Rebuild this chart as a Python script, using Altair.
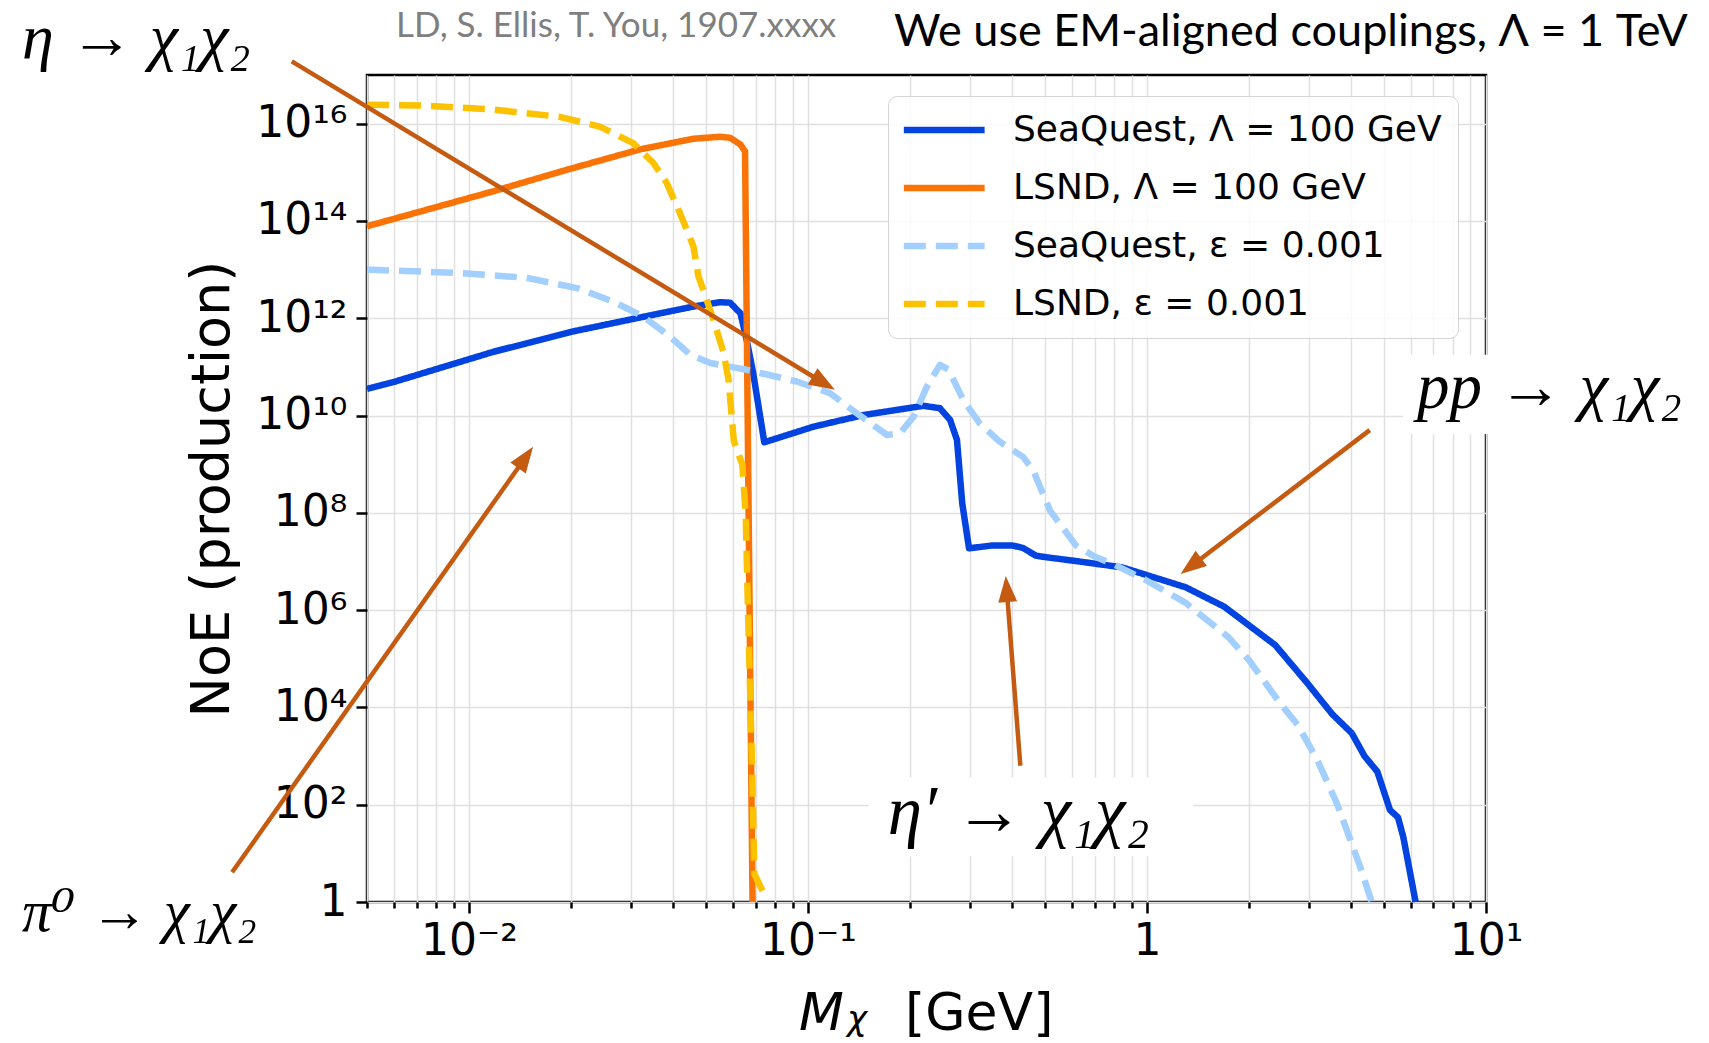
import json
import math

import altair as alt
import pandas as pd

# ---------------- curves: mass [GeV] and log10(number of events) ----------------
seaquest_lam_mass = [0.005, 0.006, 0.0118, 0.0203, 0.0327, 0.0459, 0.055, 0.0589, 0.0632, 0.0659,
                     0.0689, 0.0743, 0.1037, 0.1457, 0.2189, 0.245, 0.2625, 0.275, 0.285, 0.2985,
                     0.35, 0.40, 0.43, 0.47, 0.50, 0.60, 0.843, 1.30, 1.69, 2.39,
                     2.97, 3.52, 4.02, 4.38, 4.78, 5.21, 5.5, 5.7, 6.2]
seaquest_lam_log = [10.55, 10.69, 11.31, 11.73, 12.03, 12.24, 12.33, 12.32, 12.10, 11.56,
                    10.87, 9.45, 9.77, 10.01, 10.20, 10.15, 9.91, 9.50, 8.20, 7.27,
                    7.33, 7.33, 7.28, 7.12, 7.09, 7.02, 6.88, 6.47, 6.07, 5.28,
                    4.50, 3.86, 3.47, 3.00, 2.68, 1.89, 1.74, 1.34, 0.0]

lsnd_lam_mass = [0.005, 0.0118, 0.0194, 0.0319, 0.0459, 0.055, 0.0589, 0.0632, 0.0652, 0.0662, 0.0686]
lsnd_lam_log = [13.89, 14.61, 15.05, 15.47, 15.69, 15.73, 15.71, 15.57, 15.43, 10.73, 0.0]

seaquest_eps_mass = [0.005, 0.0094, 0.0148, 0.0208, 0.0267, 0.0327, 0.0392, 0.0449, 0.0515, 0.0659,
                     0.0927, 0.116, 0.139, 0.171, 0.187, 0.205, 0.224, 0.245, 0.26, 0.287,
                     0.321, 0.368, 0.431, 0.461, 0.518, 0.617, 0.70, 0.798, 0.99, 1.30,
                     1.74, 2.0, 2.46, 2.79, 3.18, 3.62, 3.95, 4.3, 4.6]
seaquest_eps_log = [13.0, 12.93, 12.83, 12.62, 12.34, 12.03, 11.62, 11.25, 11.08, 10.94,
                    10.70, 10.46, 10.05, 9.60, 9.64, 9.98, 10.59, 11.04, 10.94, 10.32,
                    9.84, 9.46, 9.15, 8.88, 8.04, 7.33, 7.10, 6.94, 6.62, 6.15,
                    5.44, 4.97, 4.10, 3.63, 2.92, 2.05, 1.34, 0.63, 0.0]

lsnd_eps_mass = [0.005, 0.0075, 0.0118, 0.0185, 0.0243, 0.0305, 0.035, 0.0383, 0.0419, 0.0459,
                 0.0475, 0.0491, 0.0526, 0.0563, 0.0583, 0.0604, 0.0640, 0.0655, 0.0662, 0.0670,
                 0.0678, 0.0686, 0.0694, 0.0734, 0.0742]
lsnd_eps_log = [16.39, 16.37, 16.29, 16.14, 15.94, 15.60, 15.19, 14.78, 14.16, 13.48,
                12.86, 12.58, 11.97, 11.30, 10.73, 9.48, 8.99, 7.95, 6.56, 5.17,
                3.78, 2.38, 0.58, 0.23, 0.12]

series_names = ["SeaQuest, Λ = 100 GeV", "LSND, Λ = 100 GeV",
                "SeaQuest, ε = 0.001", "LSND, ε = 0.001"]
series_colors = ["#0343df", "#f97306", "#a2cffe", "#fcc200"]
series_dash = [[1, 0], [1, 0], [22, 10], [22, 10]]

# ---------------- axis ticks ----------------
x_tick_values = [0.005, 0.006, 0.007, 0.008, 0.009,
                 0.01, 0.02, 0.03, 0.04, 0.05, 0.06, 0.07, 0.08, 0.09,
                 0.1, 0.2, 0.3, 0.4, 0.5, 0.6, 0.7, 0.8, 0.9,
                 1, 2, 3, 4, 5, 6, 7, 8, 9, 10]
x_major_values = [0.01, 0.1, 1, 10]
x_major_labels = ["10⁻²", "10⁻¹", "1", "10¹"]
y_tick_values = [1, 1e2, 1e4, 1e6, 1e8, 1e10, 1e12, 1e14, 1e16]
y_tick_labels = ["1", "10²", "10⁴", "10⁶", "10⁸", "10¹⁰", "10¹²", "10¹⁴", "10¹⁶"]

# ---------------- annotations (data coordinates) ----------------
arrow_tail_mass = [0.0030, 0.0020, 0.423, 4.54]
arrow_tail_log = [17.28, 0.61, 2.80, 9.70]
arrow_tip_mass = [0.120, 0.01545, 0.383, 1.256]
arrow_tip_log = [10.53, 9.36, 6.70, 6.74]

label_texts = ["η → χ₁χ₂", "π⁰ → χ₁χ₂", "η′ → χ₁χ₂", "pp → χ₁χ₂"]
label_mass = [0.00048, 0.00048, 0.172, 6.26]
label_log = [17.75, -0.22, 1.83, 10.57]
label_font_sizes = [64, 59, 69, 65]

box_mass_lo = [0.151, 5.69]
box_mass_hi = [1.367, 45.5]
box_log_lo = [0.94, 9.62]
box_log_hi = [2.56, 11.25]

header_left = "LD, S. Ellis, T. You, 1907.xxxx"
header_right = "We use EM-aligned couplings, Λ = 1 TeV"

# ---------------- layout ----------------
PLOT_W, PLOT_H = 1119, 827
X_LO, X_HI = 0.005, 10.0
Y_LO, Y_HI = 1.0, 1e17
BROWN = "#c55a11"
px_dec_x = PLOT_W / (math.log10(X_HI) - math.log10(X_LO))
px_dec_y = PLOT_H / (math.log10(Y_HI) - math.log10(Y_LO))

x_scale = alt.Scale(type="log", domain=[X_LO, X_HI], nice=False)
y_scale = alt.Scale(type="log", domain=[Y_LO, Y_HI], nice=False)

# ---------------- tables ----------------
rows = []
curve_mass = [seaquest_lam_mass, lsnd_lam_mass, seaquest_eps_mass, lsnd_eps_mass]
curve_log = [seaquest_lam_log, lsnd_lam_log, seaquest_eps_log, lsnd_eps_log]
for name, ms, ls in zip(series_names, curve_mass, curve_log):
    for i, (m, l) in enumerate(zip(ms, ls)):
        rows.append({"series": name, "idx": i, "mass": m, "noe": 10.0 ** l})
curves = pd.DataFrame(rows)

# arrow shafts stop inside the head so the tip stays sharp
shafts, heads = [], []
for tm, tl, hm, hl in zip(arrow_tail_mass, arrow_tail_log, arrow_tip_mass, arrow_tip_log):
    dx = (math.log10(hm) - math.log10(tm)) * px_dec_x
    dy = -(hl - tl) * px_dec_y
    n = math.hypot(dx, dy)
    ux, uy = dx / n, dy / n
    back = 16.0
    end_m = 10 ** (math.log10(hm) - back * ux / px_dec_x)
    end_l = hl + back * uy / px_dec_y
    shafts.append({"mass": tm, "noe": 10 ** tl, "mass2": end_m, "noe2": 10 ** end_l})
    heads.append({"mass": hm, "noe": 10 ** hl,
                  "angle": math.degrees(math.atan2(ux, -uy)) % 360})
shafts = pd.DataFrame(shafts)
heads = pd.DataFrame(heads)

labels = pd.DataFrame({"text": label_texts, "mass": label_mass,
                       "noe": [10 ** v for v in label_log], "size": label_font_sizes})
boxes = pd.DataFrame({"mass": box_mass_lo, "mass2": box_mass_hi,
                      "noe": [10 ** v for v in box_log_lo], "noe2": [10 ** v for v in box_log_hi]})

# ---------------- axes ----------------
x_major_test = "indexof({}, datum.value) >= 0".format(json.dumps(x_major_values))
x_label_expr = "{t} ? {labs}[indexof({vals}, datum.value)] : ''".format(
    t=x_major_test, labs=json.dumps(x_major_labels, ensure_ascii=False),
    vals=json.dumps(x_major_values))
y_label_expr = "{labs}[round(log(datum.value) / LN10 / 2)]".format(
    labs=json.dumps(y_tick_labels, ensure_ascii=False))

x_axis = alt.Axis(values=x_tick_values, labelExpr=x_label_expr, title=None,
                  tickSize={"condition": {"test": x_major_test, "value": 11}, "value": 6},
                  labelPadding=6, labelOverlap=False, labelFlush=False)
y_axis = alt.Axis(values=y_tick_values, labelExpr=y_label_expr, title="NoE (production)",
                  tickSize=11, labelPadding=9, labelOverlap=False, labelFlush=False,
                  titleFontSize=54, titlePadding=16)


def xy():
    """Shared log-scale position encodings with the same axis definition in every layer."""
    return dict(
        x=alt.X("mass:Q", scale=x_scale, axis=x_axis),
        y=alt.Y("noe:Q", scale=y_scale, axis=y_axis),
    )


legend = alt.Legend(title=None, orient="none", legendX=521, legendY=21,
                    symbolType="M-1.8,0H6.2", symbolSize=408, symbolStrokeWidth=6.5,
                    labelFont="DejaVu Sans", labelFontSize=36, labelColor="black",
                    labelOffset=73, labelLimit=0, padding=16, rowPadding=22,
                    fillColor="rgba(255,255,255,0.8)", strokeColor="#d5d5d5",
                    cornerRadius=9)

lines = alt.Chart(curves).mark_line(strokeWidth=6.5, strokeJoin="round").encode(
    **xy(),
    color=alt.Color("series:N", scale=alt.Scale(domain=series_names, range=series_colors),
                    sort=series_names, legend=legend),
    strokeDash=alt.StrokeDash("series:N", scale=alt.Scale(domain=series_names, range=series_dash),
                              sort=series_names, legend=legend),
    order="idx:Q",
)

arrow_shafts = alt.Chart(shafts).mark_rule(color=BROWN, strokeWidth=4.5).encode(
    **xy(), x2="mass2:Q", y2="noe2:Q",
)
arrow_heads = alt.Chart(heads).mark_point(
    shape="M0,0L-0.8,2.2L0.8,2.2Z", filled=True, size=560, color=BROWN, opacity=1, strokeWidth=0
).encode(
    **xy(),
    angle=alt.Angle("angle:Q", scale=None),
)

label_boxes = alt.Chart(boxes).mark_rect(color="white").encode(
    **xy(), x2="mass2:Q", y2="noe2:Q",
)
label_text = alt.Chart(labels).mark_text(
    align="left", baseline="middle", font="Liberation Serif, DejaVu Serif",
    fontStyle="italic", color="black"
).encode(
    **xy(),
    text="text:N",
    size=alt.Size("size:Q", scale=None),
)

one = pd.DataFrame({"k": [0]})
head_left = alt.Chart(one).mark_text(
    text=header_left, align="left", baseline="alphabetic", font="Lato", fontSize=35, color="#7f7f7f"
).encode(x=alt.value(29), y=alt.value(-38))
head_right = alt.Chart(one).mark_text(
    text=header_right, align="left", baseline="alphabetic", font="Lato", fontSize=45, color="black"
).encode(x=alt.value(527), y=alt.value(-29))

xt_m = alt.Chart(one).mark_text(
    text="M", align="left", baseline="alphabetic", font="DejaVu Sans", fontStyle="italic",
    fontSize=52, color="black"
).encode(x=alt.value(432), y=alt.value(955))
xt_chi = alt.Chart(one).mark_text(
    text="χ", align="left", baseline="alphabetic", font="DejaVu Sans", fontStyle="italic",
    fontSize=34, color="black"
).encode(x=alt.value(480), y=alt.value(955))
xt_unit = alt.Chart(one).mark_text(
    text="[GeV]", align="left", baseline="alphabetic", font="DejaVu Sans",
    fontSize=52, color="black"
).encode(x=alt.value(538), y=alt.value(955))

chart = alt.layer(
    lines, arrow_shafts, arrow_heads, label_boxes, label_text,
    head_left, head_right, xt_m, xt_chi, xt_unit,
).properties(
    width=PLOT_W, height=PLOT_H,
    autosize=alt.AutoSizeParams(type="none"),
    padding={"left": 367, "top": 75, "right": 223, "bottom": 141},
    background="white",
).configure_view(
    stroke="black", strokeWidth=2.5,
).configure_axis(
    domain=False, grid=True, gridColor="#e0e0e0", gridWidth=1.5,
    tickColor="black", tickWidth=2.5,
    labelFont="DejaVu Sans", labelFontSize=44, labelColor="black",
    titleFont="DejaVu Sans", titleFontWeight="normal", titleColor="black",
)

chart.save("out.html", embed_options={"renderer": "svg", "actions": False})
